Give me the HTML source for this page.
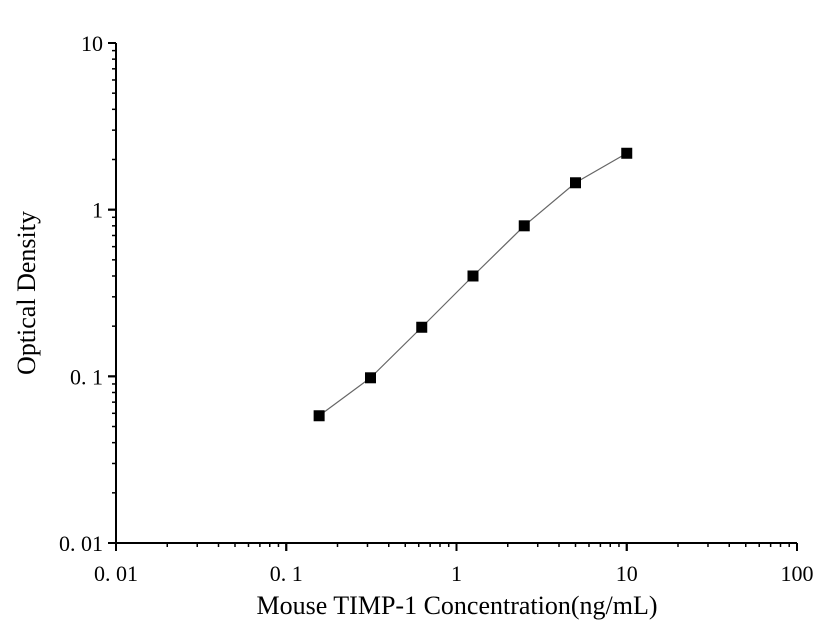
<!DOCTYPE html>
<html><head><meta charset="utf-8"><style>body{margin:0;background:#fff}svg{display:block;font-family:"Liberation Serif",serif}</style></head>
<body>
<svg id="chart" width="838" height="628" viewBox="0 0 838 628" xmlns="http://www.w3.org/2000/svg">
<g id="axes"></g>
<g id="plot"></g>
<text x="457" y="614" font-size="26" text-anchor="middle">Mouse TIMP-1 Concentration(ng/mL)</text>
<text transform="translate(35,293) rotate(-90)" font-size="26" text-anchor="middle">Optical Density</text>
</svg>
<script>
const concentrations=[0.156,0.3125,0.625,1.25,2.5,5,10];
const odValues=[0.058,0.098,0.197,0.40,0.80,1.45,2.18];
const xTickValues=[0.01,0.1,1,10,100];
const xTickLabels=["0. 01","0. 1","1","10","100"];
const yTickValues=[0.01,0.1,1,10];
const yTickLabels=["0. 01","0. 1","1","10"];
const NS="http://www.w3.org/2000/svg";
const X0=116,X1=797,Y0=543,Y1=43;
function xs(v){return X0+(Math.log10(v)+2)/4*(X1-X0);}
function ys(v){return Y0-(Math.log10(v)+2)/3*(Y0-Y1);}
function mk(t,a,p){const e=document.createElementNS(NS,t);for(const k in a)e.setAttribute(k,a[k]);p.appendChild(e);return e;}
const ax=document.getElementById('axes'),pl=document.getElementById('plot');
let l=mk('line',{x1:X0-8,y1:Y0,x2:X1,y2:Y0,stroke:'#000','stroke-width':2},ax);

l=mk('line',{x1:X0,y1:Y0+8,x2:X0,y2:Y1,stroke:'#000','stroke-width':2},ax);

for(let d=-2;d<2;d++)for(let m=1;m<=10;m++){const v=m*Math.pow(10,d),x=xs(v),maj=(m==1||m==10);
 l=mk('line',{x1:x,y1:Y0,x2:x,y2:Y0+(maj?8:4),stroke:'#000','stroke-width':maj?2:1.5},ax);
 }
for(let d=-2;d<1;d++)for(let m=1;m<=10;m++){const v=m*Math.pow(10,d),y=ys(v),maj=(m==1||m==10);
 l=mk('line',{x1:X0,y1:y,x2:X0-(maj?8:4),y2:y,stroke:'#000','stroke-width':maj?2:1.5},ax);
 }
xTickValues.forEach((v,i)=>{const t=mk('text',{x:xs(v),y:Y0+38,'font-size':22,'text-anchor':'middle'},ax);t.textContent=xTickLabels[i];
 });
yTickValues.forEach((v,i)=>{const t=mk('text',{x:X0-13,y:ys(v)+8,'font-size':22,'text-anchor':'end'},ax);t.textContent=yTickLabels[i];
 });
const pts=concentrations.map((c,i)=>[xs(c),ys(odValues[i])]);
const p=mk('polyline',{points:pts.map(q=>q.join(',')).join(' '),fill:'none',stroke:'#666','stroke-width':1.2},pl);

pts.forEach(q=>{const r=mk('rect',{x:q[0]-5.5,y:q[1]-5.5,width:11,height:11,fill:'#000'},pl);
 });
</script>
</body></html>
